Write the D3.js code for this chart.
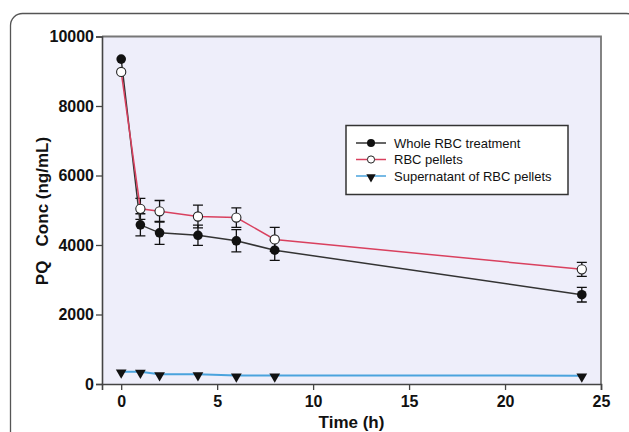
<!DOCTYPE html>
<html>
<head>
<meta charset="utf-8">
<script src="https://cdn.jsdelivr.net/npm/d3@7"></script>
<style>
  html, body { margin: 0; padding: 0; background: #fff; }
  svg { display: block; font-family: "Liberation Sans", Arial, sans-serif; }
</style>
</head>
<body>
<svg id="chart" width="629" height="432"></svg>
<script>
const time = [0, 1, 2, 4, 6, 8, 24];
const wholeRBC = [9350, 4580, 4350, 4280, 4120, 3850, 2570];
const wholeRBCErr = [0, 320, 330, 290, 320, 290, 210];
const rbcPellets = [8980, 5040, 4970, 4820, 4790, 4160, 3300];
const rbcPelletsErr = [0, 300, 310, 330, 280, 345, 200];
const supernatant = [355, 350, 280, 280, 245, 245, 240];
const xTicks = [0, 5, 10, 15, 20, 25];
const yTicks = [0, 2000, 4000, 6000, 8000, 10000];
const seriesNames = ["Whole RBC treatment", "RBC pellets", "Supernatant of RBC pellets"];

const svg = d3.select("#chart");

// outer rounded frame
svg.append("rect")
  .attr("x", 10.5).attr("y", 13.5)
  .attr("width", 628).attr("height", 460)
  .attr("rx", 12).attr("ry", 12)
  .attr("fill", "#fff").attr("stroke", "#555").attr("stroke-width", 1.3);

const x = d3.scaleLinear().domain([-1, 25]).range([102, 601]);
const y = d3.scaleLinear().domain([0, 10000]).range([384, 36.5]);

// plot background
svg.append("rect")
  .attr("x", x(-1)).attr("y", y(10000))
  .attr("width", x(25) - x(-1)).attr("height", y(0) - y(10000))
  .attr("fill", "#eeeefa");

// top and right frame
svg.append("path")
  .attr("d", `M${x(-1)},${y(10000)}H${x(25)}V${y(0)}`)
  .attr("fill", "none").attr("stroke", "#777").attr("stroke-width", 1.8);

// axes
const yAxis = d3.axisLeft(y).tickValues(yTicks).tickSize(6).tickPadding(2).tickFormat(d3.format("d"));
const xAxis = d3.axisBottom(x).tickValues(xTicks).tickSize(6).tickPadding(6).tickFormat(d3.format("d"));

const gy = svg.append("g").attr("transform", `translate(${x(-1)},0)`).call(yAxis);
const gx = svg.append("g").attr("transform", `translate(0,${y(0)})`).call(xAxis);
[gx, gy].forEach(g => {
  g.select(".domain").attr("stroke", "#444").attr("stroke-width", 1.6);
  g.selectAll(".tick line").attr("stroke", "#444").attr("stroke-width", 1.3);
  g.selectAll(".tick text")
    .attr("fill", "#111").attr("font-size", 16).attr("font-weight", "bold")
    .attr("font-family", "'Liberation Sans', Arial, sans-serif");
});

// axis titles
svg.append("text")
  .attr("x", x(12)).attr("y", 428)
  .attr("text-anchor", "middle")
  .attr("font-size", 17).attr("font-weight", "bold").attr("fill", "#111")
  .text("Time (h)");
svg.append("text")
  .attr("transform", `translate(48,211) rotate(-90)`)
  .attr("text-anchor", "middle")
  .attr("font-size", 17).attr("font-weight", "bold").attr("fill", "#111")
  .attr("xml:space", "preserve")
  .style("white-space", "pre")
  .text("PQ   Conc (ng/mL)");

// error bars
function errorBars(vals, errs) {
  const g = svg.append("g").attr("stroke", "#111").attr("stroke-width", 1.3).attr("fill", "none");
  time.forEach((t, i) => {
    if (!errs[i]) return;
    const cx = x(t), y1 = y(vals[i] + errs[i]), y2 = y(vals[i] - errs[i]);
    g.append("path").attr("d", `M${cx},${y1}V${y2}M${cx - 5},${y1}H${cx + 5}M${cx - 5},${y2}H${cx + 5}`);
  });
}
errorBars(wholeRBC, wholeRBCErr);
errorBars(rbcPellets, rbcPelletsErr);

const line = d3.line().x((d, i) => x(time[i])).y(d => y(d));

svg.append("path").datum(supernatant).attr("d", line)
  .attr("fill", "none").attr("stroke", "#4aa3dd").attr("stroke-width", 2);
svg.append("path").datum(wholeRBC).attr("d", line)
  .attr("fill", "none").attr("stroke", "#333").attr("stroke-width", 1.5);
svg.append("path").datum(rbcPellets).attr("d", line)
  .attr("fill", "none").attr("stroke", "#d9405e").attr("stroke-width", 1.5);

const tri = d3.symbol().type(d3.symbolTriangle).size(50);

svg.append("g").selectAll("path").data(supernatant).join("path")
  .attr("d", tri)
  .attr("transform", (d, i) => `translate(${x(time[i])},${y(d) + 1}) rotate(180)`)
  .attr("fill", "#111");
svg.append("g").selectAll("circle").data(wholeRBC).join("circle")
  .attr("cx", (d, i) => x(time[i])).attr("cy", d => y(d)).attr("r", 4.8)
  .attr("fill", "#111");
svg.append("g").selectAll("circle").data(rbcPellets).join("circle")
  .attr("cx", (d, i) => x(time[i])).attr("cy", d => y(d)).attr("r", 4.6)
  .attr("fill", "#fff").attr("stroke", "#222").attr("stroke-width", 1.1);

// legend
const lg = svg.append("g");
lg.append("rect")
  .attr("x", 346).attr("y", 125.5).attr("width", 222).attr("height", 69)
  .attr("fill", "#fff").attr("stroke", "#333").attr("stroke-width", 1.5);
const legendColors = ["#333", "#d9405e", "#4aa3dd"];
seriesNames.forEach((name, i) => {
  const ly = 143 + i * 16.5;
  lg.append("line").attr("x1", 356).attr("x2", 386).attr("y1", ly).attr("y2", ly)
    .attr("stroke", legendColors[i]).attr("stroke-width", 1.5);
  if (i === 0) lg.append("circle").attr("cx", 371).attr("cy", ly).attr("r", 4).attr("fill", "#111");
  if (i === 1) lg.append("circle").attr("cx", 371).attr("cy", ly).attr("r", 3.6).attr("fill", "#fff").attr("stroke", "#222");
  if (i === 2) lg.append("path").attr("d", d3.symbol().type(d3.symbolTriangle).size(38))
    .attr("transform", `translate(371,${ly + 1}) rotate(180)`).attr("fill", "#111");
  lg.append("text").attr("x", 394).attr("y", ly + 4.5)
    .attr("font-size", 13).attr("fill", "#111").text(name);
});
</script>
</body>
</html>
